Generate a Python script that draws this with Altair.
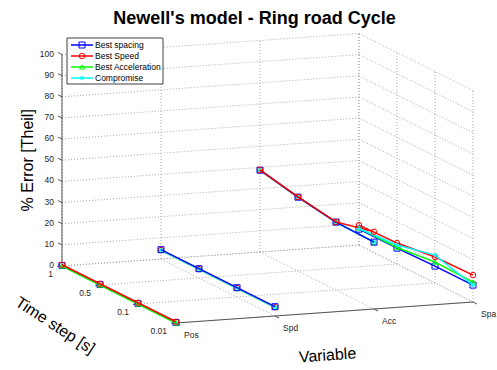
import altair as alt
import pandas as pd

# ---------------- data ----------------
variables = ["Pos", "Spd", "Acc", "Spa"]
time_steps = ["1", "0.5", "0.1", "0.01"]
series = ["Best spacing", "Best Speed", "Best Acceleration", "Compromise"]
colors = ["#0000ff", "#ff0000", "#00ff00", "#00ffff"]
z_ticks = [0, 10, 20, 30, 40, 50, 60, 70, 80, 90, 100]

# % Error [Theil]; rows = variables (Pos, Spd, Acc, Spa), cols = time steps (1, 0.5, 0.1, 0.01)
best_spacing = [[0.2, 0.2, 0.2, 0.2],
                [4.4, 4.4, 4.4, 4.4],
                [38.7, 34.9, 32.1, 31.6],
                [7.5, 7.5, 8.0, 8.0]]
best_speed = [[0.6, 0.6, 0.6, 0.6],
              [4.2, 4.2, 4.2, 4.2],
              [38.8, 35.0, 32.2, 36.5],
              [9.4, 9.9, 12.3, 12.7]]
best_accel = [[0.0, 0.0, 0.0, 0.0],
              [4.1, 4.1, 4.1, 4.1],
              [38.7, 34.9, 32.1, 31.6],
              [8.0, 7.8, 9.9, 9.4]]
compromise = [[0.2, 0.2, 0.2, 0.2],
              [4.2, 4.2, 4.2, 4.2],
              [38.7, 34.9, 32.0, 31.6],
              [7.8, 9.0, 13.2, 8.0]]
values = [best_spacing, best_speed, best_accel, compromise]

# drawing order (bottom -> top) for each variable, imitating the 3-D renderer
draw_order = {
    "Pos": ["Best spacing", "Compromise", "Best Acceleration", "Best Speed"],
    "Spd": ["Best Speed", "Best Acceleration", "Compromise", "Best spacing"],
    "Acc": ["Best Acceleration", "Compromise", "Best spacing", "Best Speed"],
    "Spa": ["Best spacing", "Best Speed", "Best Acceleration", "Compromise"],
}

# ---------------- 3-D projection (orthographic view) ----------------
OX, OY = 62.0, 266.0        # (Pos, t=1, z=0)
VX, VY = 99.0, -7.0         # one variable step
TX, TY = 38.0, 19.0         # one time-step step
ZS = 2.115                  # pixels per % unit
W, H, TOP = 497, 370, 30


def proj(v, t, z):
    return OX + v * VX + t * TX, OY + v * VY + t * TY - z * ZS


nv, nt = len(variables) - 1, len(time_steps) - 1
zmax = z_ticks[-1]

# data points
rows = []
for si, s in enumerate(series):
    for vi, var in enumerate(variables):
        for ti, ts in enumerate(time_steps):
            z = values[si][vi][ti]
            x, y = proj(vi, ti, z)
            rows.append({"x": x, "y": y, "series": s, "variable": var,
                         "ts": ts, "ti": ti, "value": z,
                         "rank": draw_order[var].index(s)})
df = pd.DataFrame(rows)

# grid segments
grid = []
def seg(lst, a, b):
    lst.append({"x": a[0], "y": a[1], "x2": b[0], "y2": b[1]})

for z in z_ticks:
    seg(grid, proj(0, 0, z), proj(nv, 0, z))
    seg(grid, proj(nv, 0, z), proj(nv, nt, z))
for v in range(nv + 1):
    seg(grid, proj(v, 0, 0), proj(v, 0, zmax))
    seg(grid, proj(v, 0, 0), proj(v, nt, 0))
for t in range(nt + 1):
    seg(grid, proj(nv, t, 0), proj(nv, t, zmax))
    seg(grid, proj(0, t, 0), proj(nv, t, 0))
grid_df = pd.DataFrame(grid)

# axis lines and ticks
axes = []
seg(axes, proj(0, 0, 0), proj(0, 0, zmax))
seg(axes, proj(0, 0, 0), proj(0, nt, 0))
seg(axes, proj(0, nt, 0), proj(nv, nt, 0))
labels = []
for z in z_ticks:
    p = proj(0, 0, z)
    seg(axes, p, (p[0] - 4, p[1] - 2))
    labels.append({"x": p[0] - 8, "y": p[1] - 1, "text": str(z), "align": "right"})
for ti, ts in enumerate(time_steps):
    p = proj(0, ti, 0)
    seg(axes, p, (p[0] - 5, p[1] + 0.4))
    labels.append({"x": p[0] - 9, "y": p[1] + 8, "text": ts, "align": "right"})
for vi, var in enumerate(variables):
    p = proj(vi, nt, 0)
    seg(axes, p, (p[0] + 4, p[1] + 2))
    labels.append({"x": p[0] + 8, "y": p[1] + 12, "text": var, "align": "left"})
axes_df = pd.DataFrame(axes)
lab_df = pd.DataFrame(labels)

# axis titles
zmid = proj(0, 0, zmax / 2)
tmid = proj(0, nt / 2, 0)
vmid = proj(nv / 2, nt, 0)
titles_df = pd.DataFrame([
    {"x": zmid[0] - 34, "y": zmid[1], "text": "% Error [Theil]", "angle": 270},
    {"x": tmid[0] - 64, "y": tmid[1] + 31, "text": "Time step [s]", "angle": 33},
    {"x": vmid[0] + 3, "y": vmid[1] + 43, "text": "Variable", "angle": 356},
])

# legend
LX, LY, LW, LH, ROW = 67, 38, 96, 46, 11
leg_box = pd.DataFrame([{"x": LX, "y": LY, "x2": LX + LW, "y2": LY + LH}])
leg = []
for i, s in enumerate(series):
    yy = LY + 7 + ROW * i
    leg.append({"series": s, "x": LX + 4, "x2": LX + 26, "y": yy, "y2": yy,
                "xm": LX + 15, "xt": LX + 28})
leg_df = pd.DataFrame(leg)

# ---------------- encodings ----------------
xs = alt.Scale(domain=[0, W], nice=False, zero=False)
ys = alt.Scale(domain=[TOP, H], reverse=True, nice=False, zero=False)
X = alt.X("x:Q", scale=xs, axis=None)
Y = alt.Y("y:Q", scale=ys, axis=None)
col = alt.Color("series:N", scale=alt.Scale(domain=series, range=colors), legend=None)
ast = "M-1,0L1,0M0,-1L0,1M-0.7,-0.7L0.7,0.7M-0.7,0.7L0.7,-0.7"
shp = alt.Shape("series:N", scale=alt.Scale(domain=series,
                range=["square", "circle", "triangle-up", ast]), legend=None)
siz = alt.Size("series:N", scale=alt.Scale(domain=series, range=[36, 18, 30, 40]), legend=None)
FONT = "Liberation Sans"

grid_layer = alt.Chart(grid_df).mark_rule(color="#a8a8a8", strokeWidth=1,
                                          strokeDash=[1, 2]).encode(
    x=X, y=Y, x2="x2:Q", y2="y2:Q")
axes_layer = alt.Chart(axes_df).mark_rule(color="#555555", strokeWidth=1).encode(
    x=X, y=Y, x2="x2:Q", y2="y2:Q")
lab_r = alt.Chart(lab_df[lab_df["align"] == "right"]).mark_text(
    align="right", baseline="middle", font=FONT, fontSize=8.5, color="#262626").encode(
    x=X, y=Y, text="text:N")
lab_l = alt.Chart(lab_df[lab_df["align"] == "left"]).mark_text(
    align="left", baseline="middle", font=FONT, fontSize=8.5, color="#262626").encode(
    x=X, y=Y, text="text:N")
title_layers = []
for _, r in titles_df.iterrows():
    title_layers.append(
        alt.Chart(titles_df[titles_df["text"] == r["text"]]).mark_text(
            align="center", baseline="middle", font=FONT, fontSize=16,
            color="black", angle=int(r["angle"])).encode(x=X, y=Y, text="text:N"))

data_layers = []
base = alt.Chart(df)
for rk in range(4):
    sub = base.transform_filter(alt.datum.rank == rk)
    data_layers.append(sub.mark_line(strokeWidth=1.5).encode(
        x=X, y=Y, color=col, detail="variable:N", order="ti:Q"))
    data_layers.append(sub.mark_point(filled=False, strokeWidth=1, opacity=1).encode(
        x=X, y=Y, color=col, shape=shp, size=siz))

box = alt.Chart(leg_box).mark_rect(fill="white", stroke="#404040", strokeWidth=1).encode(
    x=X, y=Y, x2="x2:Q", y2="y2:Q")
leg_lines = alt.Chart(leg_df).mark_rule(strokeWidth=1.5).encode(
    x=X, y=Y, x2="x2:Q", y2="y2:Q", color=col)
leg_pts = alt.Chart(leg_df).mark_point(filled=False, strokeWidth=1, opacity=1).encode(
    x=alt.X("xm:Q", scale=xs, axis=None), y=Y, color=col, shape=shp, size=siz)
leg_txt = alt.Chart(leg_df).mark_text(align="left", baseline="middle", font=FONT,
                                      fontSize=8.5, color="black").encode(
    x=alt.X("xt:Q", scale=xs, axis=None), y=Y, text="series:N")

chart = alt.layer(
    grid_layer, axes_layer, lab_r, lab_l, *title_layers, *data_layers,
    box, leg_lines, leg_pts, leg_txt
).properties(
    width=W, height=H - TOP,
    autosize=alt.AutoSizeParams(type="none"),
    padding={"left": 0, "top": TOP, "right": 0, "bottom": 0},
    title=alt.TitleParams("Newell's model - Ring road Cycle", font=FONT, fontSize=18,
                          fontWeight="bold", color="black", anchor="middle",
                          offset=2, dx=6),
    background="white",
).configure_view(stroke=None)

chart.save("out.html", embed_options={"renderer": "svg", "actions": False})
